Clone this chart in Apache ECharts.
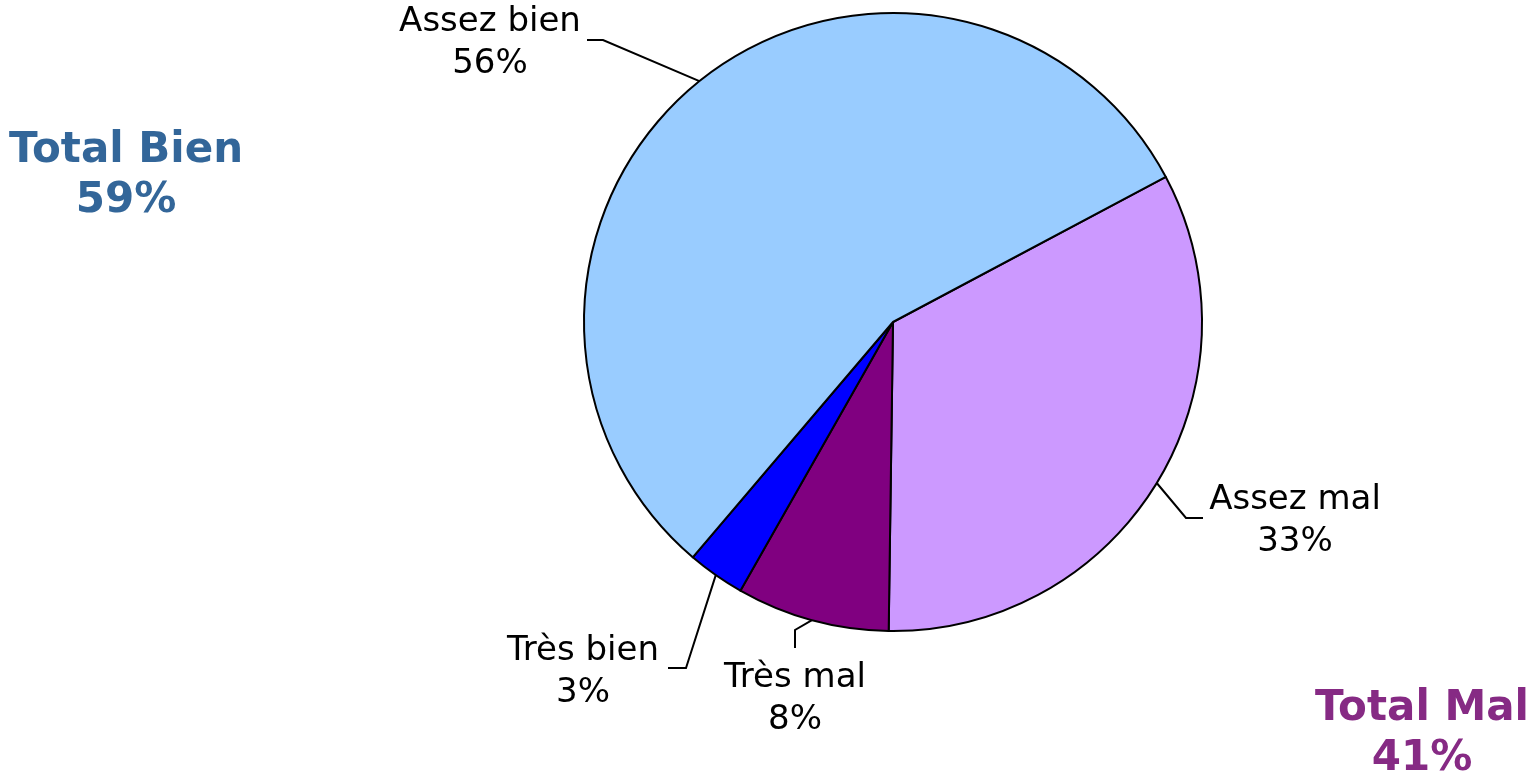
<!DOCTYPE html>
<html>
<head>
<meta charset="utf-8">
<script src="https://cdn.jsdelivr.net/npm/echarts@6/dist/echarts.min.js"></script>
<style>
  html, body { margin: 0; padding: 0; background: #fff; }
  #chart { width: 1528px; height: 773px; }
</style>
</head>
<body>
<div id="chart"></div>
<script>
// slices, clockwise from the Assez mal edge
const categories = ["Assez mal", "Très mal", "Très bien", "Assez bien"];
const values = [33, 8, 3, 56];
const colors = ["#CC99FF", "#800080", "#0000FF", "#99CCFF"];
const totalBien = 59;
const totalMal = 41;

// where each label sits, and the bend of its leader line
const labelSpots = [
  { x: 1295, y: 521, bend: [1186, 518], end: [1203, 518] },
  { x: 795, y: 699, bend: [795, 630], end: [795, 648] },
  { x: 583, y: 672, bend: [686, 668], end: [668, 668] },
  { x: 490, y: 43, bend: [603, 40], end: [587, 40] }
];

const chart = echarts.init(document.getElementById("chart"));

chart.setOption({
  animation: false,
  textStyle: { fontFamily: "DejaVu Sans" },
  graphic: [
    {
      type: "text",
      x: 126,
      y: 176,
      style: {
        text: "Total Bien\n" + totalBien + "%",
        align: "center",
        verticalAlign: "middle",
        font: "bold 42px 'DejaVu Sans'",
        lineHeight: 50,
        fill: "#336699"
      }
    },
    {
      type: "text",
      x: 1422,
      y: 734,
      style: {
        text: "Total Mal\n" + totalMal + "%",
        align: "center",
        verticalAlign: "middle",
        font: "bold 42px 'DejaVu Sans'",
        lineHeight: 50,
        fill: "#862A84"
      }
    }
  ],
  series: [
    {
      type: "pie",
      center: [893, 322],
      radius: 309,
      startAngle: 28,
      clockwise: true,
      avoidLabelOverlap: false,
      itemStyle: { borderColor: "#000", borderWidth: 2 },
      label: {
        show: true,
        position: "outside",
        formatter: (p) => p.name + "\n" + p.value + "%",
        fontFamily: "DejaVu Sans",
        fontSize: 34,
        lineHeight: 42,
        color: "#000",
        align: "center"
      },
      labelLine: {
        show: true,
        lineStyle: { color: "#000", width: 2 }
      },
      labelLayout: (params) => {
        const s = labelSpots[params.dataIndex];
        const start = params.labelLinePoints ? params.labelLinePoints[0] : s.bend;
        return {
          x: s.x,
          y: s.y,
          align: "center",
          verticalAlign: "middle",
          labelLinePoints: [start, s.bend, s.end]
        };
      },
      data: categories.map((name, i) => ({
        name: name,
        value: values[i],
        itemStyle: { color: colors[i] }
      }))
    }
  ]
});
</script>
</body>
</html>
